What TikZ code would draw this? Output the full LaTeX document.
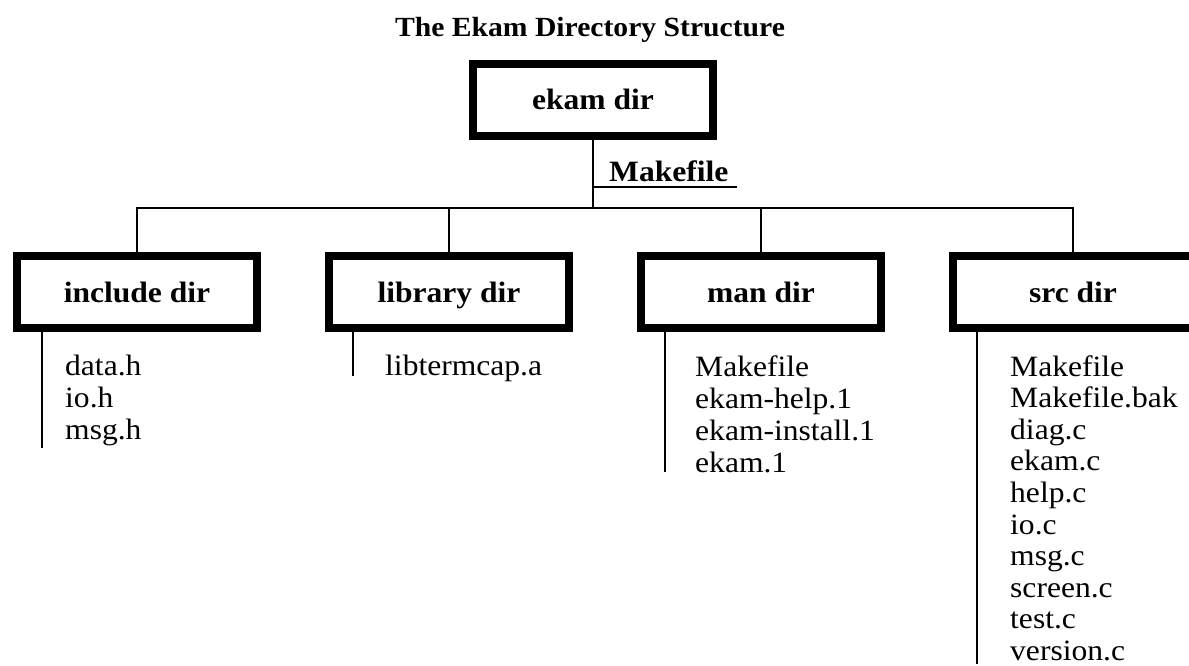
\documentclass[tikz,border=0pt]{standalone}
\usepackage{fontspec}
\setmainfont[FakeStretch=1.07]{Liberation Serif}
\begin{document}
\begin{tikzpicture}[x=1pt,y=-1pt,
  dirbox/.style={draw, line width=8pt, minimum width=240pt, minimum height=72pt, inner sep=0pt,
    font=\fontsize{29.5}{32}\selectfont\bfseries, text height=22pt, text depth=2pt},
  conn/.style={line width=2pt},
  fileitem/.style={anchor=base west, inner sep=0pt, font=\fontsize{29.5}{32}\selectfont}]
\useasboundingbox (0,0) rectangle (1189,666);
\clip (0,0) rectangle (1189,666);
\node[anchor=base, inner sep=0pt, font=\fontsize{27.7}{30}\selectfont\bfseries] (title) at (590,37) {The Ekam Directory Structure};
\node[dirbox] (ekam) at (593,100) {ekam dir};
\node[dirbox] (inc) at (137,292) {include dir};
\node[dirbox] (lib) at (449,292) {library dir};
\node[dirbox] (man) at (761,292) {man dir};
\node[dirbox] (src) at (1073,292) {src dir};
% tree connectors
\coordinate (bus) at (593,208);
\draw[conn] (ekam.south) -- (bus);
\draw[conn] (inc.north) -- (inc.north |- bus) -- (src.north |- bus) -- (src.north);
\draw[conn] (lib.north) -- (lib.north |- bus);
\draw[conn] (man.north) -- (man.north |- bus);
% Makefile label
\node[fileitem, font=\fontsize{29.5}{32}\selectfont\bfseries] (mk) at (609,182) {Makefile};
\coordinate (ulA) at (593,187);
\coordinate (ulB) at (737,187);
\draw[conn] (ulA) -- (ulB);
% file lists
\foreach \f [count=\i] in {data.h,io.h,msg.h}
  \node[fileitem] (incf\i) at (65,{375+32*(\i-1)}) {\f};
\node[fileitem] (libf1) at (385,375) {libtermcap.a};
\foreach \f [count=\i] in {Makefile,ekam-help.1,ekam-install.1,ekam.1}
  \node[fileitem] (manf\i) at (695,{376+32*(\i-1)}) {\f};
\foreach \f [count=\i] in {Makefile,Makefile.bak,diag.c,ekam.c,help.c,io.c,msg.c,screen.c,test.c,version.c}
  \node[fileitem] (srcf\i) at (1010,{376+31.6*(\i-1)}) {\f};
% list bars
\coordinate (incEnd) at (42,448);
\coordinate (libEnd) at (353,376);
\coordinate (manEnd) at (665,472);
\coordinate (srcEnd) at (977,664);
\draw[conn] (inc.south -| incEnd) -- (incEnd);
\draw[conn] (lib.south -| libEnd) -- (libEnd);
\draw[conn] (man.south -| manEnd) -- (manEnd);
\draw[conn] (src.south -| srcEnd) -- (srcEnd);
\end{tikzpicture}
\end{document}
